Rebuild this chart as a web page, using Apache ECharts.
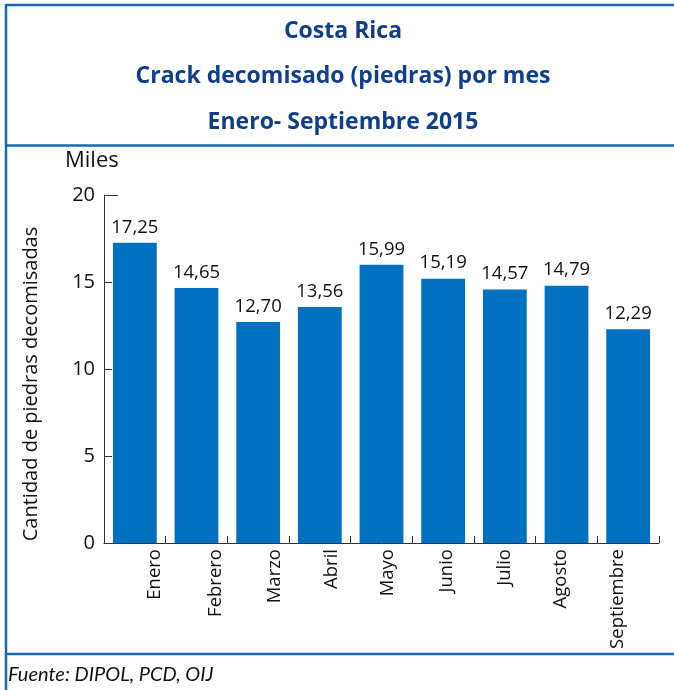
<!DOCTYPE html>
<html>
<head>
<meta charset="utf-8">
<script src="https://cdn.jsdelivr.net/npm/echarts@6/dist/echarts.min.js"></script>
<style>
  html, body { margin: 0; padding: 0; background: #fff; }
  #chart { width: 674px; height: 690px; }
</style>
</head>
<body>
<div id="chart"></div>
<script>
  const months = ['Enero', 'Febrero', 'Marzo', 'Abril', 'Mayo', 'Junio', 'Julio', 'Agosto', 'Septiembre']
  const seized = [17.25, 14.65, 12.70, 13.56, 15.99, 15.19, 14.57, 14.79, 12.29]
  const yTicks = [0, 5, 10, 15, 20]
  const titleLines = ['Costa Rica', 'Crack decomisado (piedras) por mes', 'Enero- Septiembre 2015']

  const frameBlue = '#1769b3'
  const titleBlue = '#0f3e8a'

  // en el original las etiquetas del eje x no quedan centradas en cada barra
  const labelShift = [20, 19, 16.5, 12, 6, 3.5, 0, -5.5, -10]
  const rich = {}
  labelShift.forEach((s, i) => {
    rich['m' + i] = {
      fontSize: 18.5,
      lineHeight: 18,
      color: '#111',
      fontFamily: 'Open Sans',
      padding: [Math.max(0, 2 * s), 0, Math.max(0, -2 * s), 0]
    }
  })

  let myChart = echarts.init(document.getElementById('chart'))
  let option = {
    animation: false,
    textStyle: { fontFamily: 'Open Sans' },
    grid: { left: 104, right: 15, top: 195, bottom: 147 },
    xAxis: {
      type: 'category',
      data: months,
      axisLine: { lineStyle: { color: '#333', width: 1 } },
      axisTick: { show: true, inside: true, length: 7, lineStyle: { color: '#333' } },
      axisLabel: {
        rotate: 90,
        margin: 6,
        color: '#111',
        fontSize: 18.5,
        verticalAlign: 'middle',
        formatter: (v, i) => '{m' + i + '|' + v + '}',
        rich: rich
      }
    },
    yAxis: {
      type: 'value',
      min: 0,
      max: 20,
      interval: 5,
      splitLine: { show: false },
      axisLine: { show: true, lineStyle: { color: '#333', width: 1 } },
      axisTick: { show: true, inside: true, length: 8, lineStyle: { color: '#333' } },
      axisLabel: {
        color: '#111',
        fontSize: 20,
        margin: 9,
        formatter: v => yTicks.includes(v) ? String(v) : ''
      }
    },
    series: [{
      type: 'bar',
      data: seized,
      barWidth: '71%',
      itemStyle: { color: '#0070c0' },
      label: {
        show: true,
        position: 'top',
        distance: 6,
        color: '#111',
        fontSize: 18.5,
        formatter: p => p.value.toFixed(2).replace('.', ',')
      }
    }],
    graphic: [
      // marco
      { type: 'line', shape: { x1: 6, y1: 5, x2: 674, y2: 5 }, style: { stroke: frameBlue, lineWidth: 2.5 } },
      { type: 'line', shape: { x1: 6, y1: 4, x2: 6, y2: 690 }, style: { stroke: frameBlue, lineWidth: 2.5 } },
      { type: 'line', shape: { x1: 6, y1: 145.5, x2: 674, y2: 145.5 }, style: { stroke: frameBlue, lineWidth: 2.5 } },
      { type: 'line', shape: { x1: 6, y1: 654, x2: 674, y2: 654 }, style: { stroke: frameBlue, lineWidth: 2.5 } },
      // tick superior del eje y, mas largo
      { type: 'line', shape: { x1: 104, y1: 195.5, x2: 118, y2: 195.5 }, style: { stroke: '#333', lineWidth: 1 } },
      // titulos
      ...titleLines.map((t, i) => ({
        type: 'text',
        x: 343,
        y: 31 + i * 45.5,
        style: {
          text: t,
          fill: titleBlue,
          font: 'bold 23px "Open Sans"',
          textAlign: 'center',
          textVerticalAlign: 'middle'
        }
      })),
      {
        type: 'text', x: 65, y: 161,
        style: { text: 'Miles', fill: '#111', font: '22px "Open Sans"', textVerticalAlign: 'middle' }
      },
      {
        type: 'text', x: 31, y: 384, rotation: Math.PI / 2,
        style: {
          text: 'Cantidad de piedras decomisadas',
          fill: '#111',
          font: '20px "Open Sans"',
          textAlign: 'center',
          textVerticalAlign: 'middle'
        }
      },
      {
        type: 'text', x: 8, y: 675,
        style: { text: 'Fuente: DIPOL, PCD, OIJ', fill: '#111', font: 'italic 20px Lato', textVerticalAlign: 'middle' }
      }
    ]
  }

  myChart.setOption(option)
</script>
</body>
</html>
